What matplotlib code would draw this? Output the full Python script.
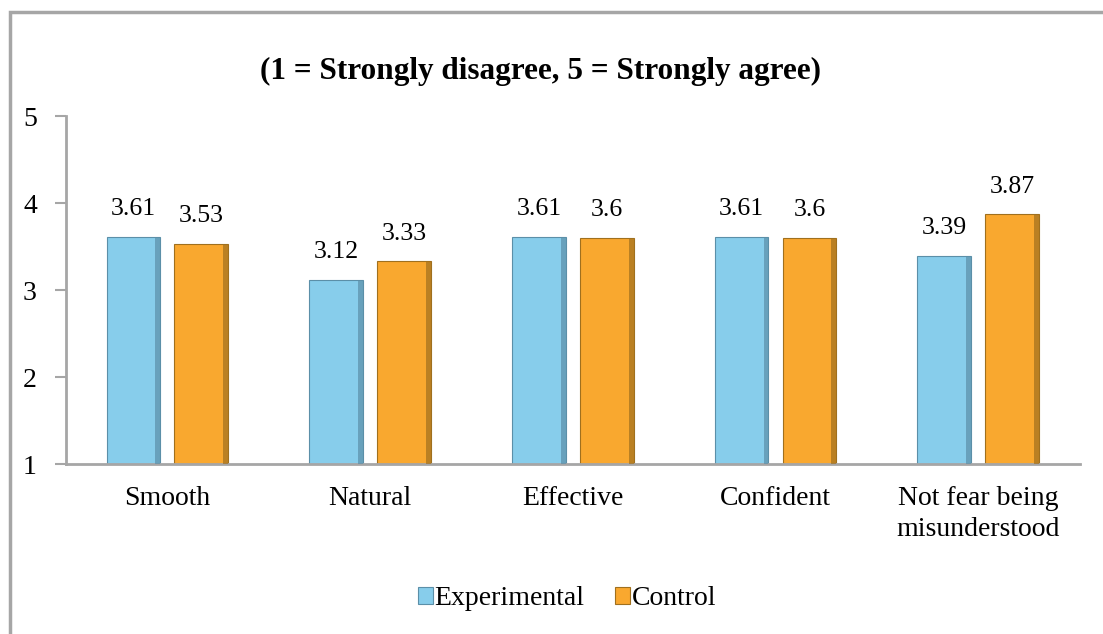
import matplotlib.pyplot as plt
from matplotlib.patches import Rectangle
import numpy as np

plt.rcParams['font.family'] = ['Liberation Serif', 'DejaVu Serif']

categories = ['Smooth', 'Natural', 'Effective', 'Confident', 'Not fear being\nmisunderstood']
experimental = [3.61, 3.12, 3.61, 3.61, 3.39]
control = [3.53, 3.33, 3.6, 3.6, 3.87]
series_names = ['Experimental', 'Control']

BLUE = '#87CDEB'
BLUE_EDGE = '#5B8FA8'
ORANGE = '#F9A82F'
ORANGE_EDGE = '#A0701E'


def draw_bars(ax, xs, vals, face, edge, label):
    width = 0.265
    bars = ax.bar(xs, [v - 1 for v in vals], width, bottom=1, color=face,
                  edgecolor=edge, linewidth=0.8, label=label, zorder=2)
    # darker strip down the right side for a bevelled look
    ax.bar(xs + width / 2 - 0.012, [v - 1 for v in vals], 0.024, bottom=1,
           color=edge, alpha=0.7, linewidth=0, zorder=3)
    for x, v in zip(xs, vals):
        ax.annotate(f'{v:g}', (x, v), xytext=(0, 12), textcoords='offset points',
                    ha='center', va='bottom', fontsize=18.5)
    return bars


def main():
    fig = plt.figure(figsize=(11.03, 6.34), dpi=100)
    ax = fig.add_axes([0.0598, 0.268, 0.919, 0.549])

    x = np.arange(len(categories))
    off = 0.1675
    draw_bars(ax, x - off, experimental, BLUE, BLUE_EDGE, series_names[0])
    draw_bars(ax, x + off, control, ORANGE, ORANGE_EDGE, series_names[1])

    ax.set_xlim(-0.5, len(categories) - 0.5)
    ax.set_ylim(1, 5)
    ax.set_yticks([1, 2, 3, 4, 5])
    ax.set_xticks(x)
    ax.set_xticklabels(categories, fontsize=20, linespacing=1.3)
    ax.tick_params(axis='x', length=0, pad=16)
    ax.tick_params(axis='y', length=8, width=1.5, color='#A6A6A6', labelsize=20, pad=13)
    for s in ['top', 'right']:
        ax.spines[s].set_visible(False)
    for s in ['left', 'bottom']:
        ax.spines[s].set_color('#A6A6A6')
        ax.spines[s].set_linewidth(2)

    fig.text(0.49, 0.887, '(1 = Strongly disagree, 5 = Strongly agree)', ha='center',
             va='center', fontsize=22.5, fontweight='bold')

    ax.legend(loc='center', bbox_to_anchor=(0.514, 0.056), bbox_transform=fig.transFigure,
              ncol=2, frameon=False, fontsize=20, handlelength=0.55, handleheight=0.55,
              handletextpad=0.05, columnspacing=1.1)

    # outer chart frame
    fig.patches.append(Rectangle((10 / 1103, -0.1), 1.2, 1 - 12 / 634 + 0.1,
                                 transform=fig.transFigure, fill=False,
                                 edgecolor='#A6A6A6', linewidth=2.5))

    fig.savefig('out.png', dpi=100)


if __name__ == '__main__':
    main()
